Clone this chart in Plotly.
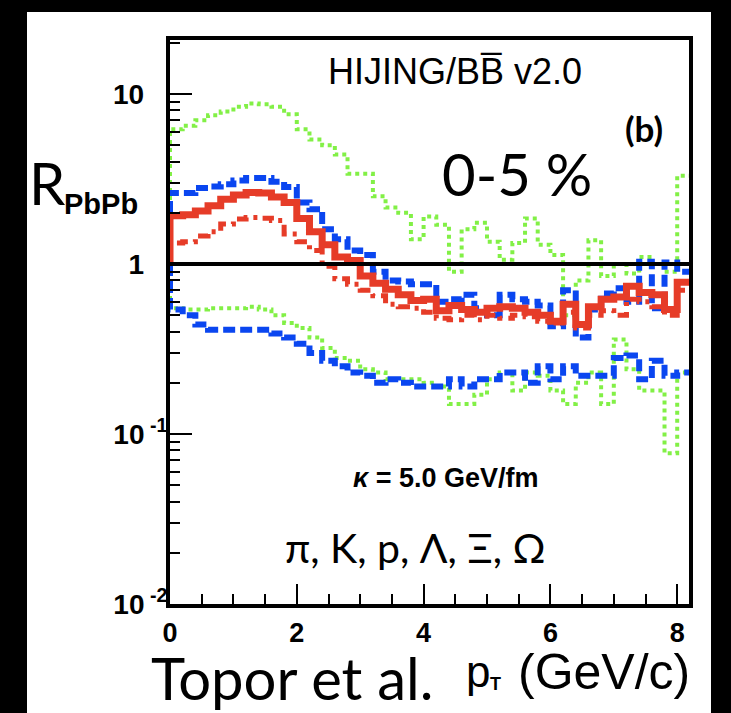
import plotly.graph_objects as go

# pT binning (GeV/c): lower bin edges, 0.2 GeV wide bins
pt_low_edges = [0.0, 0.2, 0.4, 0.6, 0.8, 1.0, 1.2, 1.4, 1.6, 1.8,
                2.0, 2.2, 2.4, 2.6, 2.8, 3.0, 3.2, 3.4, 3.6, 3.8,
                4.0, 4.2, 4.4, 4.6, 4.8, 5.0, 5.2, 5.4, 5.6, 5.8,
                6.0, 6.2, 6.4, 6.6, 6.8, 7.0, 7.2, 7.4, 7.6, 7.8,
                8.0]
pt_last_edge = 8.2

# R_PbPb, HIJING/BBbar v2.0, 0-5 %, kappa = 5.0 GeV/fm
r_central = [1.92, 1.95, 2.05, 2.20, 2.40, 2.55, 2.63, 2.62, 2.48, 2.30,
             1.85, 1.55, 1.30, 1.10, 1.05, 0.85, 0.77, 0.71, 0.66, 0.61,
             0.62, 0.53, 0.57, 0.54, 0.52, 0.55, 0.56, 0.55, 0.52, 0.50,
             0.46, 0.58, 0.44, 0.56, 0.62, 0.64, 0.74, 0.68, 0.66, 0.54,
             0.78]
r_low = [1.33, 1.35, 1.46, 1.55, 1.72, 1.84, 1.88, 1.86, 1.80, 1.50,
         1.35, 1.20, 0.97, 0.82, 0.76, 0.70, 0.65, 0.58, 0.56, 0.55,
         0.52, 0.48, 0.47, 0.50, 0.47, 0.50, 0.48, 0.50, 0.49, 0.46,
         0.45, 0.52, 0.42, 0.50, 0.53, 0.50, 0.62, 0.60, 0.56, 0.50,
         0.70]
blue_upper = [2.62, 2.62, 2.80, 2.86, 2.95, 3.10, 3.20, 3.20, 3.05, 2.84,
              2.30, 2.10, 1.60, 1.40, 1.20, 1.13, 0.90, 0.80, 0.79, 0.76,
              0.76, 0.60, 0.62, 0.66, 0.55, 0.50, 0.66, 0.62, 0.60, 0.57,
              0.43, 0.70, 0.37, 0.54, 0.67, 0.72, 0.60, 1.03, 0.55, 1.02,
              0.90]
blue_lower = [0.54, 0.50, 0.44, 0.41, 0.41, 0.41, 0.41, 0.41, 0.39, 0.37,
              0.34, 0.30, 0.27, 0.25, 0.23, 0.22, 0.20, 0.21, 0.20, 0.19,
              0.19, 0.19, 0.21, 0.19, 0.21, 0.21, 0.23, 0.23, 0.20, 0.25,
              0.21, 0.25, 0.22, 0.22, 0.22, 0.28, 0.29, 0.21, 0.27, 0.22,
              0.23]
green_upper = [6.2, 6.5, 7.0, 7.5, 7.9, 8.4, 8.8, 8.7, 8.4, 7.6,
               6.2, 5.4, 5.0, 4.4, 3.4, 3.4, 2.5, 2.15, 2.0, 1.4,
               1.9, 1.7, 0.9, 1.6, 1.75, 1.35, 1.06, 1.33, 1.85, 1.3,
               1.13, 0.5, 0.8, 1.38, 0.85, 1.0, 0.88, 1.1, 1.0, 0.9,
               3.3]
green_lower = [0.55, 0.54, 0.54, 0.55, 0.55, 0.55, 0.56, 0.54, 0.50, 0.45,
               0.42, 0.37, 0.32, 0.28, 0.27, 0.24, 0.23, 0.21, 0.21, 0.21,
               0.20, 0.19, 0.15, 0.15, 0.17, 0.21, 0.23, 0.18, 0.23, 0.22,
               0.18, 0.15, 0.20, 0.23, 0.15, 0.36, 0.24, 0.18, 0.18, 0.077,
               0.23]
hist_start = 1.0  # histograms are drawn starting from unity at pT = 0

y_tickvals = [0.01, 0.1, 1, 10]
y_ticktext = ["<b>10<sup>\u00a0-2</sup></b>", "<b>10<sup>\u00a0-1</sup></b>",
              "<b>1\u00a0\u00a0\u00a0</b>", "<b>10\u00a0\u00a0\u00a0</b>"]
x_tickvals = [0, 2, 4, 6, 8]
x_ticktext = ["0", "2", "4", "6", "8"]

RED = "#e63c28"
BLUE = "#0a46f0"
GREEN = "#82f046"

# plot-area geometry (pixels) used to place free text
W, H = 731, 713
L, T, R, B = 170, 40, 42, 109
PW, PH = W - L - R, H - T - B


def px(xp, yp):
    return (xp - L) / PW, (T + PH - yp) / PH


def step_xy(vals):
    xs = [pt_low_edges[0]] + pt_low_edges + [pt_last_edge]
    ys = [hist_start] + vals + [vals[-1]]
    return xs, ys


fig = go.Figure()
curves = [
    (green_upper, GREEN, 4, "4px,4px"),
    (green_lower, GREEN, 4, "4px,4px"),
    (blue_upper, BLUE, 6, "12px,5px"),
    (blue_lower, BLUE, 6, "12px,5px"),
    (r_low, RED, 5, "12px,6px,4px,6px"),
    (r_central, RED, 7, "solid"),
]
for vals, col, w, dash in curves:
    xs, ys = step_xy(vals)
    fig.add_trace(go.Scatter(x=xs, y=ys, mode="lines", line_shape="hv",
                             line=dict(color=col, width=w, dash=dash),
                             showlegend=False, hoverinfo="skip"))

x_max = PW / 63.4
y_top = (264 - T) / 170.0  # log10 of the upper frame edge

shapes = [
    # white panel on black page
    dict(type="rect", xref="paper", yref="paper",
         x0=px(27, 0)[0], x1=px(711, 0)[0], y0=px(0, 713)[1], y1=px(0, 12)[1],
         fillcolor="white", line=dict(width=0), layer="below"),
    # unity reference line
    dict(type="line", xref="x", yref="y", x0=0, x1=x_max, y0=1, y1=1,
         line=dict(color="black", width=4)),
]

annotations = []


def note(text, xp, yp, size, family="Liberation Sans", bold=False):
    x, y = px(xp, yp)
    annotations.append(dict(text=text, x=x, y=y, xref="paper", yref="paper",
                            xanchor="center", yanchor="middle", showarrow=False,
                            font=dict(family=family, size=size, color="black",
                                      weight="bold" if bold else "normal")))


note("HIJING/BB\u0305 v2.0", 455, 72, 36)
note("(b)", 644, 128, 35, family="Lato", bold=True)
note("0-5 %", 517, 174, 58, family="Lato")
note("<i>\u03ba</i> = 5.0 GeV/fm", 446, 478, 27, bold=True)
note("\u03c0, K, p, \u039b, \u039e, \u03a9", 415, 547, 41, family="Lato")
note("Topor et al.", 292, 677, 58, family="Lato")
note("p", 478, 671, 44)
note("T", 495, 684, 18, bold=True)
note("(GeV/c)", 604, 672, 50)
note("R", 47, 183, 58, family="Lato")
note("PbPb", 101, 204, 29, bold=True)

fig.update_layout(
    width=W, height=H,
    margin=dict(l=L, r=R, t=T, b=B, pad=0),
    paper_bgcolor="black", plot_bgcolor="white",
    shapes=shapes, annotations=annotations, showlegend=False,
    xaxis=dict(range=[0, x_max], showgrid=False, zeroline=False,
               showline=True, linecolor="black", linewidth=4, mirror=True,
               ticks="inside", ticklen=20, tickwidth=2, tickcolor="black",
               tickvals=x_tickvals, ticktext=x_ticktext, ticklabelstandoff=2,
               tickfont=dict(family="Liberation Sans", size=27, color="black", weight="bold"),
               minor=dict(ticks="inside", ticklen=10, tickwidth=2, tickcolor="black",
                          dtick=0.5, showgrid=False)),
    yaxis=dict(type="log", range=[-2, y_top],
               showgrid=False, zeroline=False,
               showline=True, linecolor="black", linewidth=4, mirror=True,
               ticks="inside", ticklen=22, tickwidth=2, tickcolor="black",
               tickvals=y_tickvals, ticktext=y_ticktext, ticklabelstandoff=-7,
               tickfont=dict(family="Liberation Sans", size=28, color="black"),
               minor=dict(ticks="inside", ticklen=10, tickwidth=2, tickcolor="black",
                          tickvals=[m * 10 ** e for e in (-2, -1, 0, 1) for m in range(2, 10)],
                          showgrid=False)),
)

fig.write_html("out.html")
